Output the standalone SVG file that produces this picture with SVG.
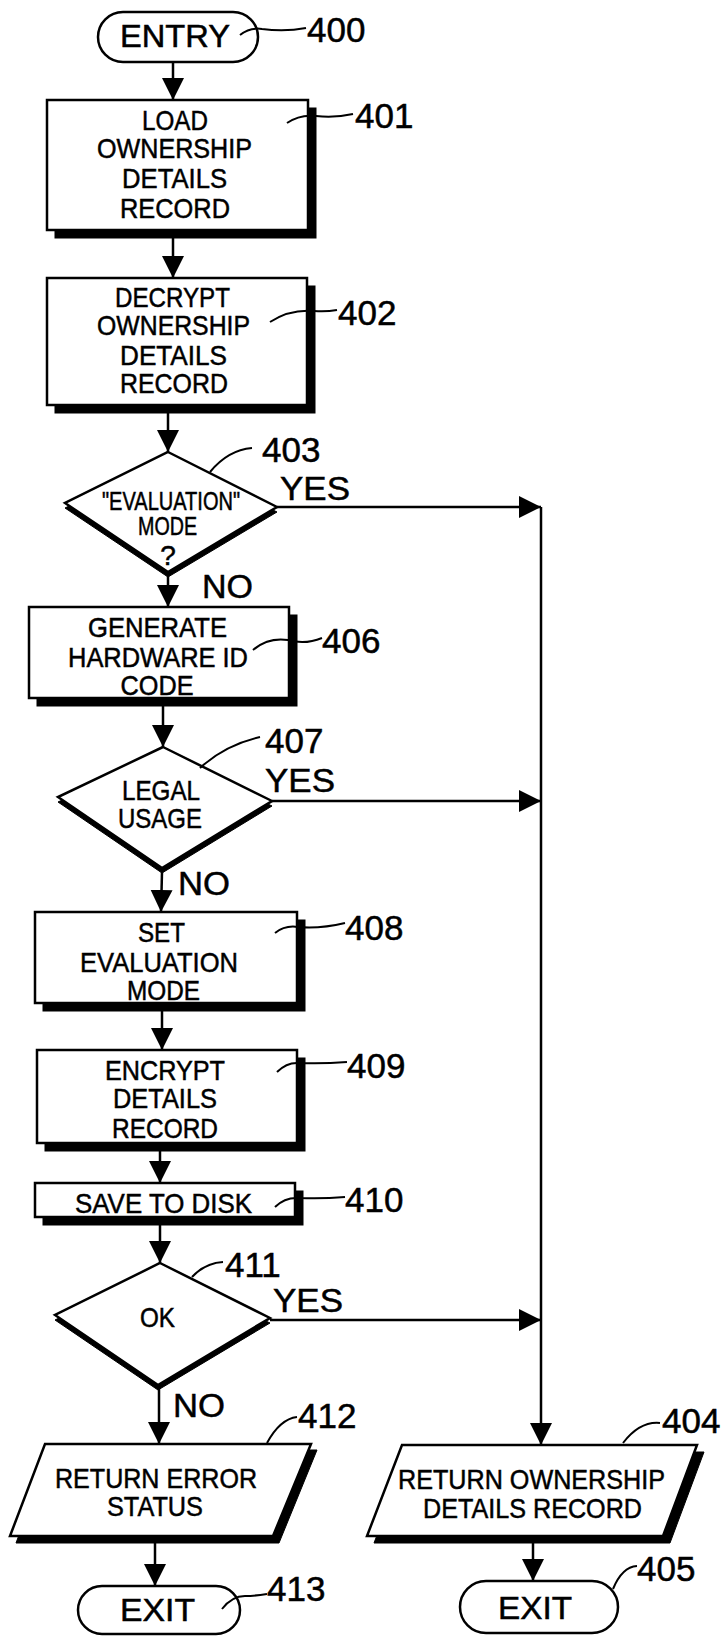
<svg xmlns="http://www.w3.org/2000/svg" width="721" height="1636" viewBox="0 0 721 1636">
<style>
.bg{fill:#fff}
.sh{fill:#000;stroke:#000;stroke-width:1}
.sp{fill:#fff;stroke:#000;stroke-width:2.5}
.ln{fill:none;stroke:#000;stroke-width:2.5}
.ld{fill:none;stroke:#000;stroke-width:2}
.t,.tb,.lb,.yn{font-family:"Liberation Sans",Arial,sans-serif;fill:#000;stroke:#000;stroke-width:0.5}
.t{font-size:28px;text-anchor:middle}
.tb{font-size:31px;text-anchor:middle}
.lb{font-size:35px}
.yn{font-size:34px}
</style>
<defs>
<marker id="ah" markerUnits="userSpaceOnUse" markerWidth="24" markerHeight="24" refX="22" refY="11" orient="auto">
<path d="M0,0 L22,11 L0,22 Z" fill="#000"/>
</marker>
</defs>
<rect class="bg" x="0" y="0" width="721" height="1636"/>

<g id="connectors">
<path class="ln" d="M173,62 L173,100" marker-end="url(#ah)"/>
<path class="ln" d="M173,238 L173,278" marker-end="url(#ah)"/>
<path class="ln" d="M168,413 L168,452" marker-end="url(#ah)"/>
<path class="ln" d="M168,576 L168,607" marker-end="url(#ah)"/>
<path class="ln" d="M277,507 L541,507" marker-end="url(#ah)"/>
<path class="ln" d="M163,706 L163,747" marker-end="url(#ah)"/>
<path class="ln" d="M272,801 L541,801" marker-end="url(#ah)"/>
<path class="ln" d="M162,872 L161,912" marker-end="url(#ah)"/>
<path class="ln" d="M162,1011 L162,1050" marker-end="url(#ah)"/>
<path class="ln" d="M160,1151 L160,1183" marker-end="url(#ah)"/>
<path class="ln" d="M160,1225 L160,1263" marker-end="url(#ah)"/>
<path class="ln" d="M270,1320 L541,1320" marker-end="url(#ah)"/>
<path class="ln" d="M159,1389 L159,1444" marker-end="url(#ah)"/>
<path class="ln" d="M541,507 L541,1445" marker-end="url(#ah)"/>
<path class="ln" d="M155,1543 L155,1586" marker-end="url(#ah)"/>
<path class="ln" d="M533,1543 L533,1581" marker-end="url(#ah)"/>
<text class="yn" x="280" y="500" textLength="70" lengthAdjust="spacingAndGlyphs">YES</text>
<text class="yn" x="202" y="598" textLength="51" lengthAdjust="spacingAndGlyphs">NO</text>
<text class="yn" x="265" y="792" textLength="70" lengthAdjust="spacingAndGlyphs">YES</text>
<text class="yn" x="178" y="895" textLength="52" lengthAdjust="spacingAndGlyphs">NO</text>
<text class="yn" x="273" y="1312" textLength="70" lengthAdjust="spacingAndGlyphs">YES</text>
<text class="yn" x="173" y="1417" textLength="52" lengthAdjust="spacingAndGlyphs">NO</text>
</g>

<g id="n400">
<rect class="sp" x="98" y="12" width="160" height="50" rx="25" ry="25"/>
<text class="tb" x="175" y="47" textLength="110" lengthAdjust="spacingAndGlyphs">ENTRY</text>
<path class="ld" d="M240,35 Q250,27 262,29 Q285,32 306,28"/>
<text class="lb" x="307" y="42">400</text>
</g>

<g id="n401">
<rect class="sh" x="55" y="108" width="261" height="130"/>
<rect class="sp" x="47" y="100" width="261" height="130"/>
<text class="t" x="175" y="130" textLength="66" lengthAdjust="spacingAndGlyphs">LOAD</text>
<text class="t" x="174.5" y="158" textLength="155" lengthAdjust="spacingAndGlyphs">OWNERSHIP</text>
<text class="t" x="174.5" y="188" textLength="105" lengthAdjust="spacingAndGlyphs">DETAILS</text>
<text class="t" x="175" y="218" textLength="110" lengthAdjust="spacingAndGlyphs">RECORD</text>
<path class="ld" d="M287,123 Q300,114 316,116 Q335,118 353,114"/>
<text class="lb" x="355" y="128">401</text>
</g>

<g id="n402">
<rect class="sh" x="55" y="286" width="260" height="127"/>
<rect class="sp" x="47" y="278" width="260" height="127"/>
<text class="t" x="172.5" y="307" textLength="115" lengthAdjust="spacingAndGlyphs">DECRYPT</text>
<text class="t" x="173.5" y="335" textLength="153" lengthAdjust="spacingAndGlyphs">OWNERSHIP</text>
<text class="t" x="173.5" y="365" textLength="107" lengthAdjust="spacingAndGlyphs">DETAILS</text>
<text class="t" x="174" y="393" textLength="108" lengthAdjust="spacingAndGlyphs">RECORD</text>
<path class="ld" d="M270,322 Q290,309 314,311 Q326,312 337,310"/>
<text class="lb" x="338" y="325">402</text>
</g>

<g id="n403">
<polygon class="sh" points="168,457 277,512 168,577 65,508"/>
<polygon class="sp" points="168,452 277,507 168,572 65,503"/>
<text class="t" x="171" y="510" style="font-size:25px" textLength="138" lengthAdjust="spacingAndGlyphs">"EVALUATION"</text>
<text class="t" x="167.5" y="535" style="font-size:25px" textLength="59" lengthAdjust="spacingAndGlyphs">MODE</text>
<text class="t" x="168" y="565" style="font-size:28px">?</text>
<path class="ld" d="M210,472 Q228,450 252,448"/>
<text class="lb" x="262" y="462">403</text>
</g>

<g id="n406">
<rect class="sh" x="37" y="615" width="260" height="91"/>
<rect class="sp" x="29" y="607" width="260" height="91"/>
<text class="t" x="157.5" y="637" textLength="139" lengthAdjust="spacingAndGlyphs">GENERATE</text>
<text class="t" x="158" y="667" textLength="180" lengthAdjust="spacingAndGlyphs">HARDWARE ID</text>
<text class="t" x="157" y="695" textLength="73" lengthAdjust="spacingAndGlyphs">CODE</text>
<path class="ld" d="M253,650 Q268,637 288,640 Q305,645 322,638"/>
<text class="lb" x="322" y="653">406</text>
</g>

<g id="n407">
<polygon class="sh" points="163,752 272,806 162,873 58,802"/>
<polygon class="sp" points="163,747 272,801 162,868 58,797"/>
<text class="t" x="161" y="800" textLength="78" lengthAdjust="spacingAndGlyphs">LEGAL</text>
<text class="t" x="160" y="828" textLength="84" lengthAdjust="spacingAndGlyphs">USAGE</text>
<path class="ld" d="M200,768 Q225,745 260,737"/>
<text class="lb" x="265" y="753">407</text>
</g>

<g id="n408">
<rect class="sh" x="43" y="920" width="262" height="91"/>
<rect class="sp" x="35" y="912" width="262" height="91"/>
<text class="t" x="161.5" y="942" textLength="47" lengthAdjust="spacingAndGlyphs">SET</text>
<text class="t" x="159" y="972" textLength="158" lengthAdjust="spacingAndGlyphs">EVALUATION</text>
<text class="t" x="163.5" y="1000" textLength="73" lengthAdjust="spacingAndGlyphs">MODE</text>
<path class="ld" d="M275,933 Q285,925 298,927 Q320,929 345,923"/>
<text class="lb" x="345" y="940">408</text>
</g>

<g id="n409">
<rect class="sh" x="45" y="1058" width="260" height="93"/>
<rect class="sp" x="37" y="1050" width="260" height="93"/>
<text class="t" x="165" y="1080" textLength="120" lengthAdjust="spacingAndGlyphs">ENCRYPT</text>
<text class="t" x="165" y="1108" textLength="104" lengthAdjust="spacingAndGlyphs">DETAILS</text>
<text class="t" x="165" y="1138" textLength="106" lengthAdjust="spacingAndGlyphs">RECORD</text>
<path class="ld" d="M277,1072 Q287,1062 299,1063 Q322,1064 347,1062"/>
<text class="lb" x="347" y="1078">409</text>
</g>

<g id="n410">
<rect class="sh" x="43" y="1191" width="260" height="34"/>
<rect class="sp" x="35" y="1183" width="260" height="34"/>
<text class="t" x="163.5" y="1213" textLength="177" lengthAdjust="spacingAndGlyphs">SAVE TO DISK</text>
<path class="ld" d="M275,1207 Q285,1197 299,1198 Q322,1199 345,1197"/>
<text class="lb" x="345" y="1212">410</text>
</g>

<g id="n411">
<polygon class="sh" points="160,1268 270,1323 158,1390 55,1320"/>
<polygon class="sp" points="160,1263 270,1318 158,1385 55,1315"/>
<text class="t" x="157.5" y="1327" textLength="35" lengthAdjust="spacingAndGlyphs">OK</text>
<path class="ld" d="M192,1277 Q205,1263 223,1262"/>
<text class="lb" x="225" y="1277">411</text>
</g>

<g id="n412">
<polygon class="sh" points="51,1450 317,1450 279,1543 16,1543"/>
<polygon class="sp" points="45,1444 311,1444 273,1536 10,1536"/>
<text class="t" x="156" y="1488" textLength="202" lengthAdjust="spacingAndGlyphs">RETURN ERROR</text>
<text class="t" x="155" y="1516" textLength="96" lengthAdjust="spacingAndGlyphs">STATUS</text>
<path class="ld" d="M267,1443 Q280,1419 297,1417"/>
<text class="lb" x="298" y="1428">412</text>
</g>

<g id="n413">
<rect class="sp" x="78" y="1586" width="162" height="48" rx="24" ry="24"/>
<text class="tb" x="157.5" y="1621" textLength="75" lengthAdjust="spacingAndGlyphs">EXIT</text>
<path class="ld" d="M222,1609 Q232,1596 245,1596 Q255,1596 267,1594"/>
<text class="lb" x="267" y="1601">413</text>
</g>

<g id="n404">
<polygon class="sh" points="409,1452 704,1452 670,1543 374,1543"/>
<polygon class="sp" points="402,1445 697,1445 663,1536 367,1536"/>
<text class="t" x="531.5" y="1489" textLength="267" lengthAdjust="spacingAndGlyphs">RETURN OWNERSHIP</text>
<text class="t" x="532.5" y="1518" textLength="219" lengthAdjust="spacingAndGlyphs">DETAILS RECORD</text>
<path class="ld" d="M623,1443 Q640,1421 660,1423"/>
<text class="lb" x="662" y="1433">404</text>
</g>

<g id="n405">
<rect class="sp" x="460" y="1581" width="158" height="52" rx="26" ry="26"/>
<text class="tb" x="535" y="1619" textLength="74" lengthAdjust="spacingAndGlyphs">EXIT</text>
<path class="ld" d="M613,1589 Q622,1567 637,1566"/>
<text class="lb" x="637" y="1581">405</text>
</g>
</svg>
